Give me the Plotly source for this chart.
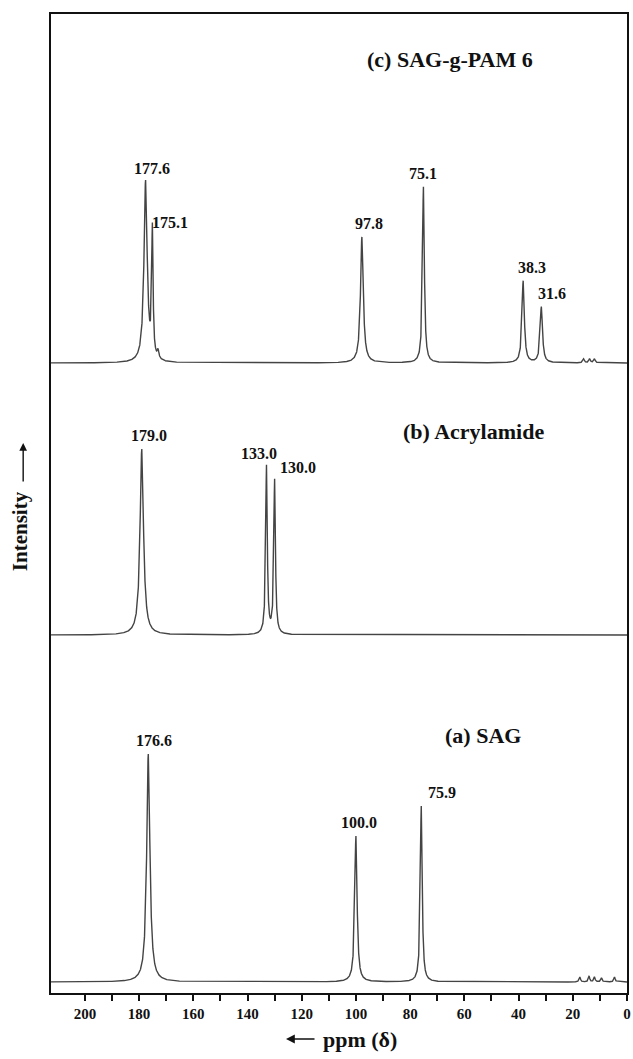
import numpy as np
import plotly.graph_objects as go

# Peak tables (chemical shift in ppm, intensity in a.u., Lorentzian half-width in ppm)
sag_shift = [176.6, 100.0, 75.9]
sag_height = [228, 146, 176]
sag_width = [0.7, 0.5, 0.4]

acr_shift = [179.0, 133.0, 130.0]
acr_height = [186, 168, 154]
acr_width = [0.75, 0.35, 0.35]

pam_shift = [177.6, 175.1, 97.8, 75.1, 38.3, 31.6]
pam_height = [181, 127, 126, 176, 82, 56]
pam_width = [0.7, 0.3, 0.6, 0.4, 0.5, 0.5]

# Small unlabelled signals
sag_minor_shift = [17.4, 14.0, 12.0, 9.4, 4.6]
sag_minor_height = [5, 6, 5, 4, 5]
pam_minor_shift = [173.0, 16.0, 13.8, 12.0]
pam_minor_height = [8, 4, 4, 4]

series_names = ["(a) SAG", "(b) Acrylamide", "(c) SAG-g-PAM 6"]
tick_values = [0, 20, 40, 60, 80, 100, 120, 140, 160, 180, 200]
minor_tick_values = [10, 30, 50, 70, 90, 110, 130, 150, 170, 190]

# Vertical stacking offsets of each spectrum on the shared intensity axis
OFFSETS = {"a": 11, "b": 358, "c": 630}
X_RANGE = [212.5, 0]
Y_RANGE = [0, 979]

SERIF = "Liberation Serif, Times New Roman, serif"
LINE_COLOR = "#444444"

ppm = np.linspace(0, 212.5, 10626)


def spectrum(shifts, heights, widths):
    y = np.zeros_like(ppm)
    for x0, h, g in zip(shifts, heights, widths):
        y += h * g * g / ((ppm - x0) ** 2 + g * g)
    return y


spec_a = spectrum(sag_shift + sag_minor_shift,
                  sag_height + sag_minor_height,
                  sag_width + [0.3] * len(sag_minor_shift))
spec_b = spectrum(acr_shift, acr_height, acr_width)
spec_c = spectrum(pam_shift + pam_minor_shift,
                  pam_height + pam_minor_height,
                  pam_width + [0.35] * len(pam_minor_shift))

fig = go.Figure()
for key, spec, name in [("a", spec_a, series_names[0]),
                        ("b", spec_b, series_names[1]),
                        ("c", spec_c, series_names[2])]:
    fig.add_trace(go.Scatter(
        x=ppm, y=spec + OFFSETS[key], mode="lines", name=name,
        line=dict(color=LINE_COLOR, width=1.4), showlegend=False,
        hoverinfo="skip"))

annotations = []

# Peak labels: (shift, height, offset key, horizontal nudge in px)
label_specs = [
    (pam_shift, pam_height, "c", [6, 18, 7, 0, 9, 11]),
    (acr_shift, acr_height, "b", [7, -7, 23]),
    (sag_shift, sag_height, "a", [6, 3, 21]),
]
for shifts, heights, key, nudges in label_specs:
    for x0, h, dx in zip(shifts, heights, nudges):
        annotations.append(dict(
            x=x0, y=h + OFFSETS[key], xref="x", yref="y",
            text=f"<b>{x0:.1f}</b>", showarrow=False,
            xanchor="center", yanchor="bottom", xshift=dx, yshift=3,
            font=dict(family=SERIF, size=16, color="#111")))

# Spectrum titles
title_pos = [
    (series_names[2], 0.693, 0.954),
    (series_names[1], 0.733, 0.574),
    (series_names[0], 0.750, 0.263),
]
for text, xp, yp in title_pos:
    annotations.append(dict(
        x=xp, y=yp, xref="paper", yref="paper", text=f"<b>{text}</b>",
        showarrow=False, xanchor="center", yanchor="middle",
        font=dict(family=SERIF, size=22, color="#111")))

# Intensity axis title with upward arrow
annotations.append(dict(
    x=-0.0534, y=0.472, xref="paper", yref="paper", text="<b>Intensity</b>",
    textangle=-90, showarrow=False, xanchor="center", yanchor="middle",
    font=dict(family=SERIF, size=21, color="#111")))
annotations.append(dict(
    x=-0.0483, y=0.5618, xref="paper", yref="paper", text="",
    showarrow=True, ax=0, ay=40, arrowhead=2, arrowsize=1.1,
    arrowwidth=1.4, arrowcolor="#111"))

# ppm axis title with leftward arrow
annotations.append(dict(
    x=0.469, y=-0.048, xref="paper", yref="paper", text="<b>ppm (δ)</b>",
    showarrow=False, xanchor="left", yanchor="middle",
    font=dict(family=SERIF, size=22, color="#111")))
annotations.append(dict(
    x=0.408, y=-0.047, xref="paper", yref="paper", text="",
    showarrow=True, ax=30, ay=0, arrowhead=2, arrowsize=1.1,
    arrowwidth=1.6, arrowcolor="#111"))

fig.update_layout(
    width=633, height=1059,
    margin=dict(l=51, r=2, t=14, b=66),
    paper_bgcolor="white", plot_bgcolor="white",
    annotations=annotations,
    xaxis=dict(
        range=X_RANGE, showgrid=False, zeroline=False,
        showline=True, linecolor="#111", linewidth=2, mirror=True,
        tickmode="array", tickvals=tick_values,
        ticktext=[f"<b>{v}</b>" for v in tick_values],
        ticks="outside", ticklen=6, tickwidth=1.5, tickcolor="#111",
        tickfont=dict(family=SERIF, size=15, color="#111"),
        minor=dict(tickmode="array", tickvals=minor_tick_values,
                   ticks="outside", ticklen=6, tickwidth=1.5,
                   tickcolor="#111", showgrid=False),
    ),
    yaxis=dict(
        range=Y_RANGE, showgrid=False, zeroline=False,
        showline=True, linecolor="#111", linewidth=2, mirror=True,
        showticklabels=False, ticks="",
    ),
)

fig.write_html("out.html")
